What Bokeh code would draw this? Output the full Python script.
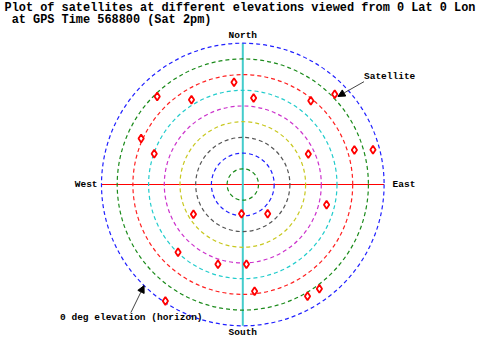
import numpy as np
from bokeh.plotting import figure
from bokeh.models import Range1d, Label, Arrow, NormalHead, ColumnDataSource
from bokeh.embed import file_html
from bokeh.resources import INLINE

# ---- data ----
title_lines = ["Plot of satellites at different elevations viewed from 0 Lat 0 Lon",
               " at GPS Time 568800 (Sat 2pm)"]
sat_elevation = [24.6, 11.8, 26.9, 18.9, 30.3, 34.4, 21.3, 7.9, 15.6, 4.2, 44.0,
                 53.3, 30.3, 36.8, 0.9, 71.4, 65.6, 35.1, 39.1, 21.6, 7.8, 7.6]
sat_azimuth = [355.1, 315.8, 328.8, 294.4, 289.1, 7.1, 39.1, 45.5, 72.8, 75.1, 65.1,
               238.9, 223.7, 197.3, 213.6, 182.5, 139.5, 103.6, 177.4, 173.7, 149.9, 143.7]
ring_elevation = [80, 70, 60, 50, 40, 30, 20, 10, 0]
ring_colors = ["#1a8a1a", "#2020ff", "#555555", "#c8c820", "#cc33cc",
               "#22cccc", "#ff2020", "#1a8a1a", "#2020ff"]
directions = ["North", "East", "South", "West"]

# ---- layout ----
W, H = 479, 338
CX, CY = 242.3, 184.0
S = 1.57
FONT = "Liberation Mono"

p = figure(width=W, height=H,
           x_range=Range1d(-CX / S, (W - CX) / S),
           y_range=Range1d(-(H - CY) / S, CY / S),
           output_backend="svg", toolbar_location=None, min_border=0,
           x_axis_location=None, y_axis_location=None)
p.grid.visible = False
p.outline_line_color = None
p.background_fill_color = "white"

# crosshair lines
p.line([-90, 90], [0, 0], line_color="red", line_width=1.2)
p.line([0, 0], [-90, 90], line_color="#44cccc", line_width=2)

# elevation rings
rs = ColumnDataSource(dict(x=[0] * len(ring_elevation), y=[0] * len(ring_elevation),
                           r=[90 - e for e in ring_elevation], c=ring_colors))
p.circle(x="x", y="y", radius="r", source=rs, fill_color=None, line_color="c",
         line_dash="4 3", line_width=1.2)

# satellites
el = np.array(sat_elevation)
az = np.radians(np.array(sat_azimuth))
sx = (90 - el) * np.sin(az)
sy = (90 - el) * np.cos(az)
p.scatter(sx, sy, marker="diamond", size=8, fill_color="white",
          line_color="red", line_width=1.8)

# direction labels
lab = dict(text_font=FONT, text_font_style="bold", text_font_size="9.5px", text_color="black")
p.add_layout(Label(x=0, y=91.5, text=directions[0], text_align="center", text_baseline="bottom", **lab))
p.add_layout(Label(x=95.4, y=0, text=directions[1], text_align="left", text_baseline="middle", **lab))
p.add_layout(Label(x=0, y=(CY - 337) / S, text=directions[2], text_align="center", text_baseline="bottom", **lab))
p.add_layout(Label(x=-92.5, y=0, text=directions[3], text_align="right", text_baseline="middle", **lab))

# annotations
p.add_layout(Label(x=77.2, y=68.9, text="Satellite", text_align="left", text_baseline="middle", **lab))
p.add_layout(Arrow(end=NormalHead(size=7, fill_color="black", line_color="black"),
                   x_start=77.2, y_start=65.5, x_end=60.6, y_end=56.1,
                   line_color="#444444", line_width=1))
p.add_layout(Label(x=-116.4, y=-84.6, text="0 deg elevation (horizon)", text_align="left",
                   text_baseline="middle", **lab))
p.add_layout(Arrow(end=NormalHead(size=7, fill_color="black", line_color="black"),
                   x_start=-71.3, y_start=-81.6, x_end=-62.9, y_end=-64.4,
                   line_color="#444444", line_width=1))

# title
tl = dict(text_font=FONT, text_font_style="bold", text_font_size="11.9px", text_color="black",
          text_align="left", text_baseline="top")
p.add_layout(Label(x=(4 - CX) / S, y=CY / S, text=title_lines[0], **tl))
line2 = title_lines[1]
line2 = "\u00a0" * (len(line2) - len(line2.lstrip(" "))) + line2.lstrip(" ")
p.add_layout(Label(x=(4 - CX) / S, y=CY / S - 12.5 / S, text=line2, **tl))

open("out.html", "w").write(file_html(p, INLINE))
